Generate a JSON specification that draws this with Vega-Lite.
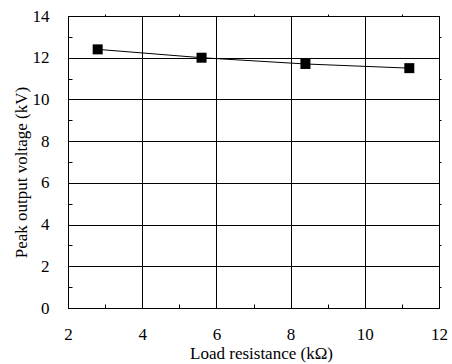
{
  "$schema": "https://vega.github.io/schema/vega-lite/v6.json",
  "width": 371,
  "height": 292,
  "autosize": "none",
  "padding": {"left": 68, "top": 16, "right": 13, "bottom": 56},
  "background": "white",
  "config": {
    "view": {"stroke": "black", "strokeWidth": 1},
    "font": "Liberation Serif",
    "axis": {
      "labelFont": "Liberation Serif",
      "titleFont": "Liberation Serif",
      "labelFontSize": 17,
      "titleFontSize": 17,
      "titleFontWeight": "normal",
      "labelColor": "black",
      "titleColor": "black",
      "domainColor": "black",
      "tickColor": "black",
      "gridColor": "black",
      "gridWidth": 1,
      "gridOpacity": 1
    }
  },
  "data": {
    "values": [
      {"r": 2.8, "v": 12.4},
      {"r": 5.6, "v": 12.0},
      {"r": 8.4, "v": 11.7},
      {"r": 11.2, "v": 11.5}
    ]
  },
  "resolve": {"axis": {"x": "independent", "y": "independent"}},
  "layer": [
    {
      "mark": {"type": "line", "color": "black", "strokeWidth": 1},
      "encoding": {
        "x": {
          "field": "r",
          "type": "quantitative",
          "scale": {"domain": [2, 12], "nice": false, "zero": false},
          "axis": {
            "title": "Load resistance (kΩ)",
            "values": [2, 3, 4, 5, 6, 7, 8, 9, 10, 11, 12],
            "labelExpr": "datum.value % 2 === 0 ? datum.label : ''",
            "grid": true,
            "gridOpacity": {"condition": {"test": "datum.value % 2 === 0", "value": 1}, "value": 0},
            "tickSize": -4,
            "labelPadding": 22,
            "titlePadding": 3,
            "titleX": 193,
            "labelFlush": false
          }
        },
        "y": {
          "field": "v",
          "type": "quantitative",
          "scale": {"domain": [0, 14], "nice": false},
          "axis": {
            "title": "Peak output voltage (kV)",
            "values": [0, 1, 2, 3, 4, 5, 6, 7, 8, 9, 10, 11, 12, 13, 14],
            "labelExpr": "datum.value % 2 === 0 ? datum.label : ''",
            "grid": true,
            "gridOpacity": {"condition": {"test": "datum.value % 2 === 0", "value": 1}, "value": 0},
            "tickSize": -4,
            "labelPadding": 23,
            "titlePadding": 2,
            "titleY": 156,
            "labelFlush": false
          }
        }
      }
    },
    {
      "mark": {"type": "point", "shape": "square", "filled": true, "color": "black", "opacity": 1, "size": 100},
      "encoding": {
        "x": {
          "field": "r",
          "type": "quantitative",
          "axis": {
            "orient": "top",
            "title": null,
            "labels": false,
            "grid": false,
            "domain": false,
            "values": [3, 5, 7, 9, 11],
            "tickSize": 2
          }
        },
        "y": {
          "field": "v",
          "type": "quantitative",
          "axis": {
            "orient": "right",
            "title": null,
            "labels": false,
            "grid": false,
            "domain": false,
            "values": [1, 3, 5, 7, 9, 11, 13],
            "tickSize": 2
          }
        }
      }
    }
  ]
}
